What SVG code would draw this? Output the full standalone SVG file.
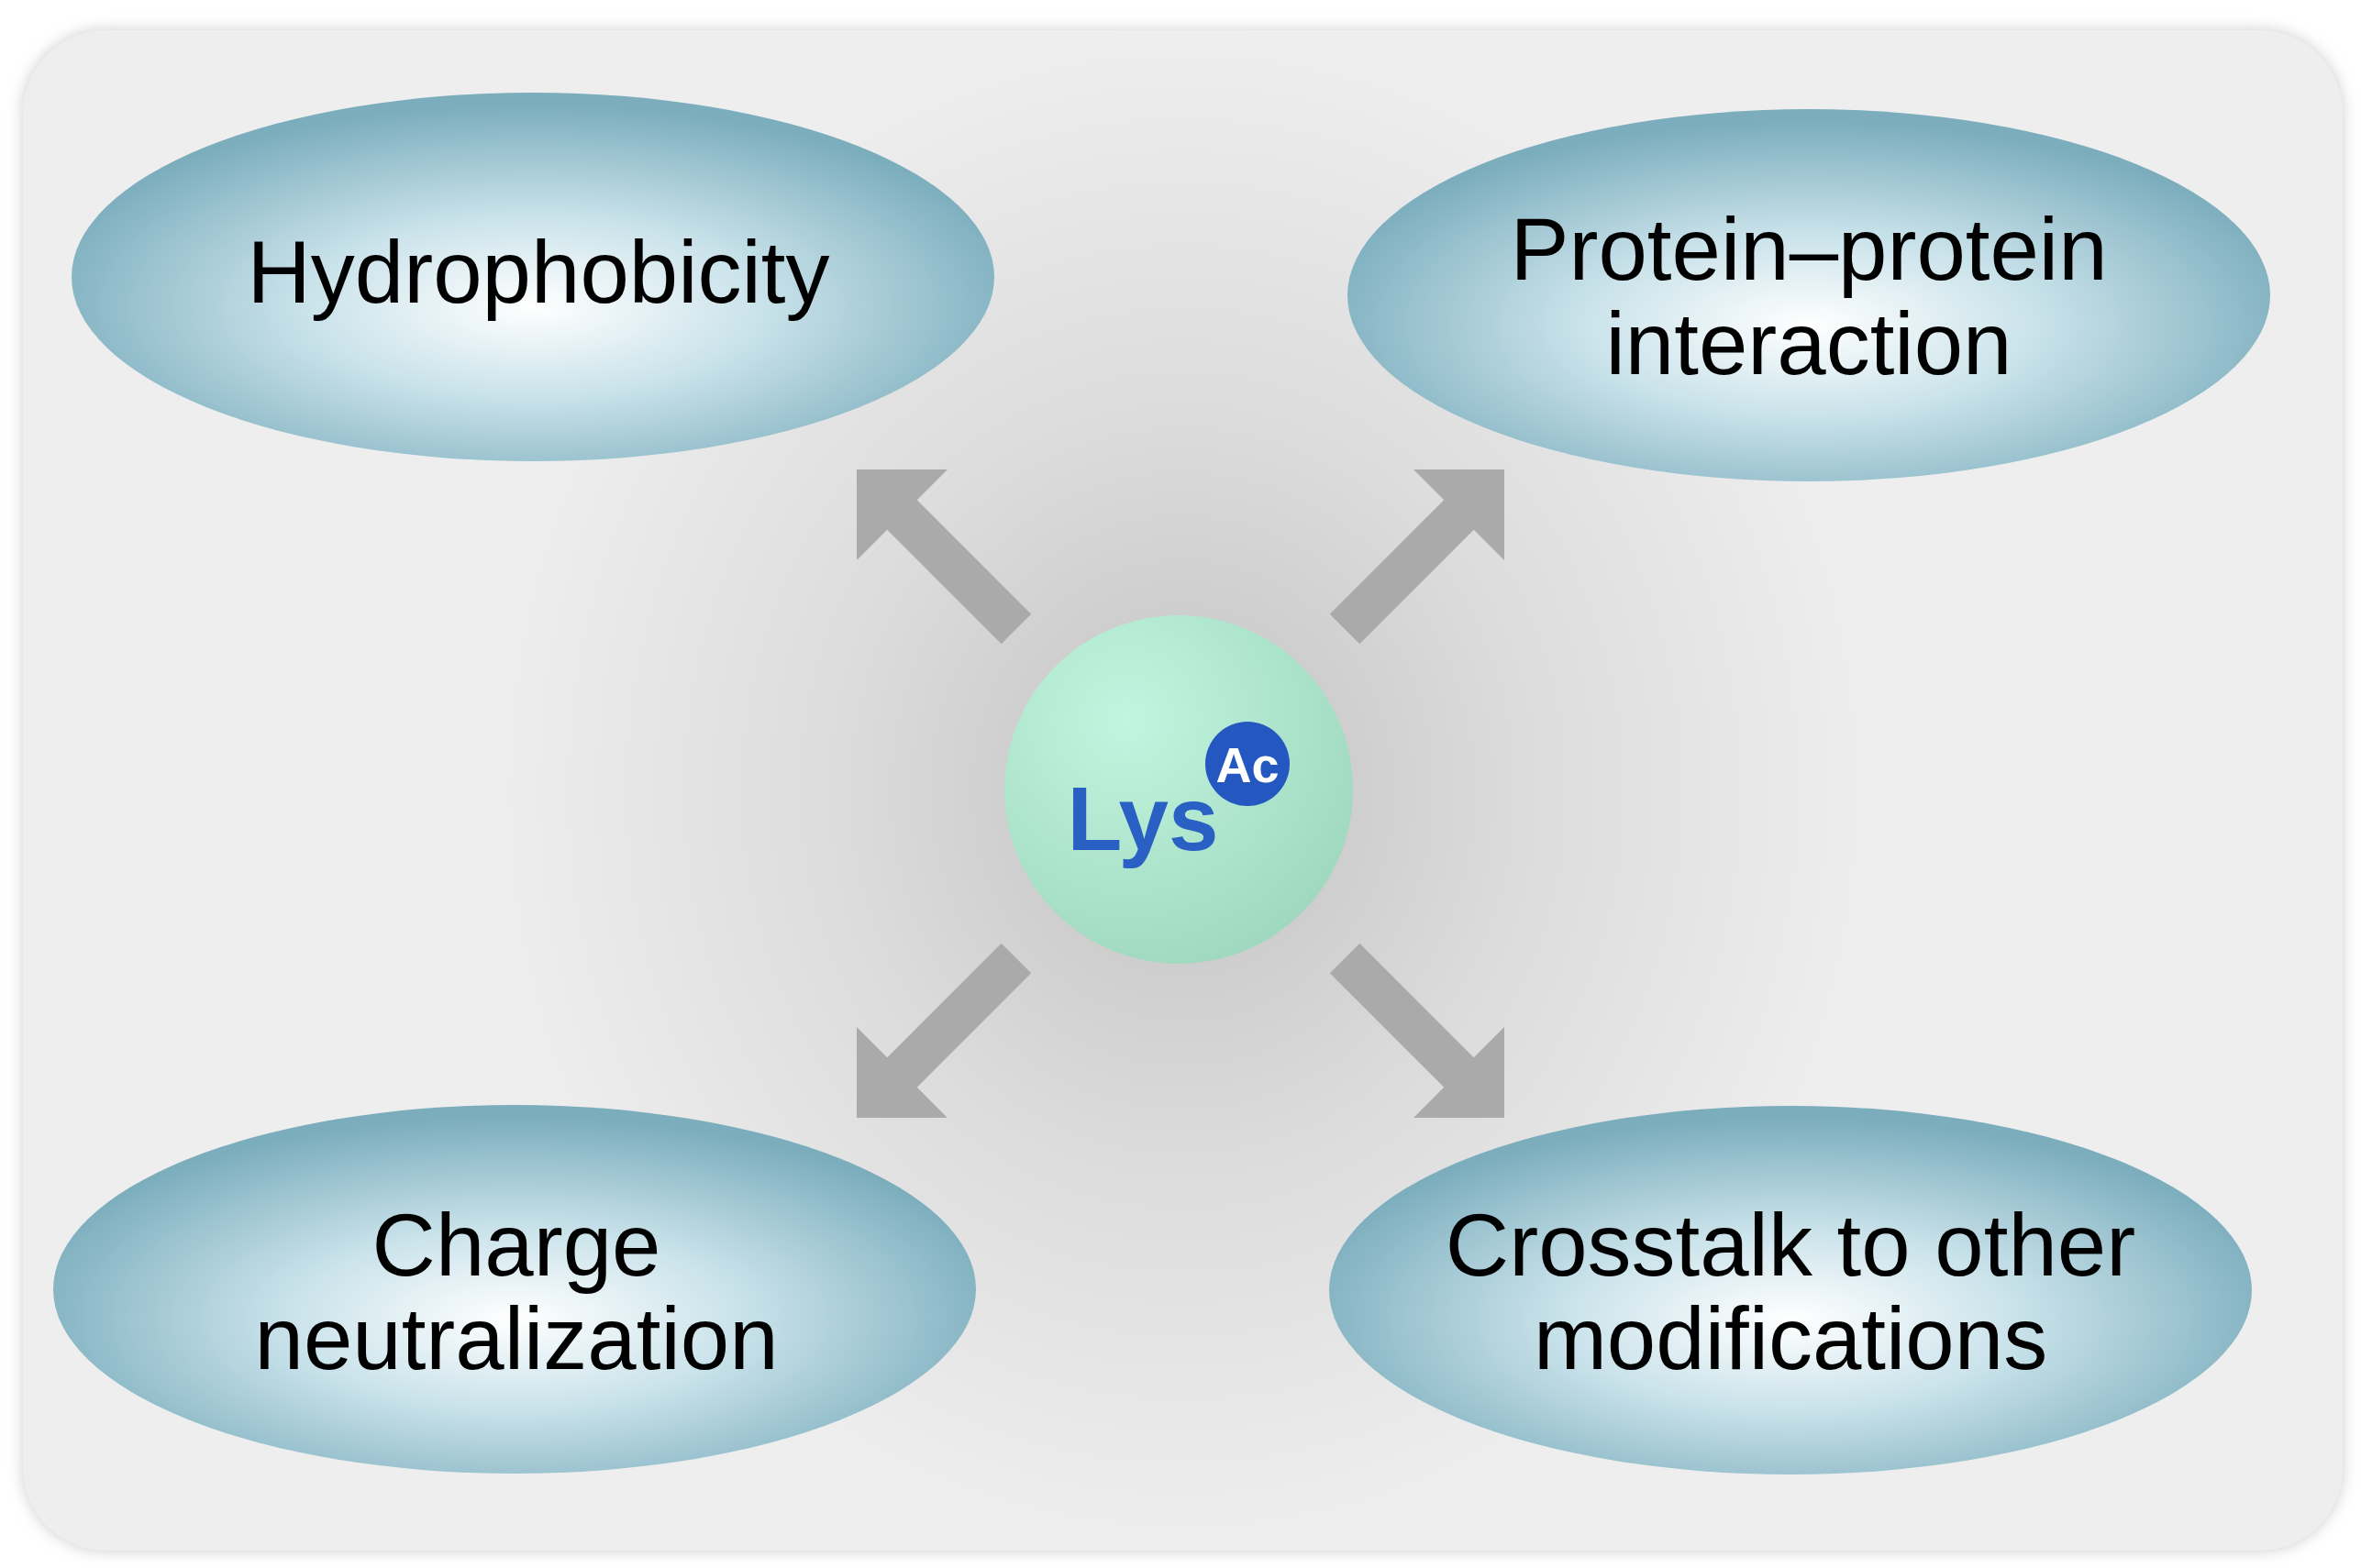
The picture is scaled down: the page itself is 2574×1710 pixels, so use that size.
<svg xmlns="http://www.w3.org/2000/svg" width="2574" height="1710" viewBox="0 0 2574 1710">
<defs>
<radialGradient id="bg" cx="0.5" cy="0.5" r="0.5" gradientTransform="translate(0.5,0.5) scale(0.6,1) translate(-0.5,-0.5)">
<stop offset="0" stop-color="#c2c2c2"/><stop offset="0.5" stop-color="#dcdcdc"/><stop offset="1" stop-color="#eeeeee"/>
</radialGradient>
<radialGradient id="ell" cx="0.5" cy="0.58" r="0.55">
<stop offset="0" stop-color="#ffffff"/><stop offset="0.45" stop-color="#c9e2ea"/><stop offset="1" stop-color="#7badbd"/>
</radialGradient>
<radialGradient id="lys" cx="0.35" cy="0.3" r="0.75">
<stop offset="0" stop-color="#c2f5df"/><stop offset="1" stop-color="#9fd8bf"/>
</radialGradient>
<filter id="sh" x="-10%" y="-10%" width="120%" height="120%"><feGaussianBlur stdDeviation="8"/></filter>
<polygon id="arr" points="0,0 70,-70 70,-23 246,-23 246,23 70,23 70,70" fill="#aaaaaa"/>
</defs>
<style>
text{font-family:"Liberation Sans",Arial,sans-serif;fill:#000;text-anchor:middle;font-size:96px}
</style>
<rect width="2574" height="1710" fill="#ffffff"/>
<rect x="25" y="33" width="2529" height="1658" rx="90" fill="#cccccc" filter="url(#sh)"/>
<rect x="25" y="33" width="2529" height="1658" rx="90" fill="url(#bg)"/>
<g id="connectors">
<use href="#arr" transform="translate(934,512) rotate(45)"/>
<use href="#arr" transform="translate(1640,512) rotate(135)"/>
<use href="#arr" transform="translate(934,1219) rotate(-45)"/>
<use href="#arr" transform="translate(1640,1219) rotate(-135)"/>
</g>
<g id="hydrophobicity"><ellipse cx="581" cy="302" rx="503" ry="201" fill="url(#ell)"/><text x="587" y="330">Hydrophobicity</text></g>
<g id="ppi"><ellipse cx="1972" cy="322" rx="503" ry="203" fill="url(#ell)"/><text x="1972" y="305">Protein–protein</text><text x="1972" y="408">interaction</text></g>
<g id="charge"><ellipse cx="561" cy="1406" rx="503" ry="201" fill="url(#ell)"/><text x="563" y="1391">Charge</text><text x="563" y="1493">neutralization</text></g>
<g id="crosstalk"><ellipse cx="1952" cy="1407" rx="503" ry="201" fill="url(#ell)"/><text x="1952" y="1391">Crosstalk to other</text><text x="1952" y="1493">modifications</text></g>
<g id="lys"><circle cx="1285" cy="861" r="190" fill="url(#lys)"/>
<text x="1246" y="927" style="font-size:98px;font-weight:bold;fill:#2a5fc4">Lys</text>
<circle cx="1360" cy="833" r="46" fill="#2457c0"/>
<text x="1360" y="853" style="font-size:54px;font-weight:bold;fill:#ffffff">Ac</text></g>
</svg>
